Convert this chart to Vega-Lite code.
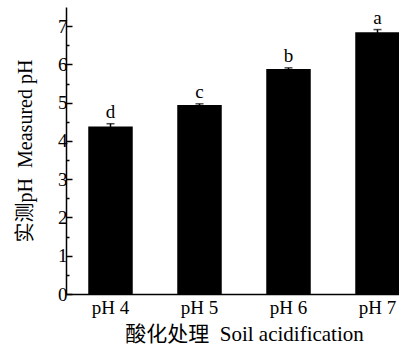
{
  "$schema": "https://vega.github.io/schema/vega-lite/v6.json",
  "autosize": {"type": "none"},
  "padding": {"left": 66, "top": 7, "right": 0, "bottom": 55},
  "width": 356,
  "height": 287,
  "config": {
    "view": {"stroke": null},
    "font": "Liberation Serif",
    "axis": {"domainColor": "#000", "tickColor": "#000", "labelColor": "#000", "titleColor": "#000", "grid": false, "labelFont": "Liberation Serif", "domainWidth": 1.5, "tickWidth": 1.5}
  },
  "data": {
    "values": [
      {"trt": "pH 4", "ph": 4.38, "lo": 4.31, "hi": 4.45, "sig": "d"},
      {"trt": "pH 5", "ph": 4.94, "lo": 4.91, "hi": 4.97, "sig": "c"},
      {"trt": "pH 6", "ph": 5.88, "lo": 5.85, "hi": 5.91, "sig": "b"},
      {"trt": "pH 7", "ph": 6.84, "lo": 6.77, "hi": 6.91, "sig": "a"}
    ]
  },
  "encoding": {
    "x": {
      "field": "trt", "type": "nominal", "sort": null,
      "scale": {"paddingInner": 0.5, "paddingOuter": 0.25},
      "axis": {"labelAngle": 0, "ticks": false, "labelFontSize": 19, "labelPadding": 4,
        "title": "酸化处理\u00a0\u00a0Soil acidification", "titleFont": "Liberation Serif, Noto Sans CJK SC", "titleFontSize": 21, "titleFontWeight": "normal", "titlePadding": 6}
    }
  },
  "layer": [
    {
      "mark": {"type": "bar", "color": "#000"},
      "encoding": {
        "y": {"field": "ph", "type": "quantitative",
          "scale": {"domain": [0, 7.5], "nice": false},
          "axis": {"values": [0,1,2,3,4,5,6,7], "tickSize": -6, "labelPadding": 5, "labelFontSize": 19,
            "title": "实测pH\u00a0\u00a0Measured pH", "titleFont": "Liberation Serif, Noto Sans CJK SC", "titleFontSize": 20, "titleFontWeight": "normal", "titlePadding": 22}
        }
      }
    },
    {
      "mark": {"type": "rule", "color": "#000", "strokeWidth": 1.5},
      "encoding": {
        "y": {"field": "lo", "type": "quantitative", "scale": {"domain": [0, 7.5], "nice": false},
          "axis": {"orient": "left", "values": [0.5,1.5,2.5,3.5,4.5,5.5,6.5], "tickSize": -3, "labels": false, "domain": false, "title": null}},
        "y2": {"field": "hi"}
      }
    },
    {
      "mark": {"type": "tick", "color": "#000", "thickness": 1.5, "size": 8},
      "encoding": {
        "y": {"field": "hi", "type": "quantitative", "scale": {"domain": [0, 7.5], "nice": false}, "axis": null}
      }
    },
    {
      "mark": {"type": "text", "baseline": "bottom", "dy": -2, "fontSize": 19, "font": "Liberation Serif", "color": "#000"},
      "encoding": {
        "y": {"field": "hi", "type": "quantitative", "scale": {"domain": [0, 7.5], "nice": false}, "axis": null},
        "text": {"field": "sig"}
      }
    }
  ],
  "resolve": {"axis": {"y": "independent"}}
}
